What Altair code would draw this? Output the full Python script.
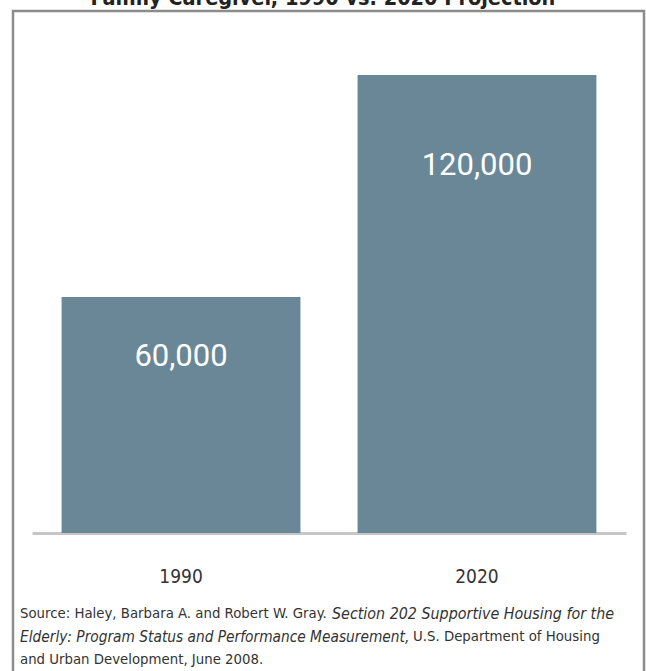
import altair as alt
import pandas as pd

# ---- data ----
YEARS = ["1990", "2020"]
CAREGIVERS = [60000, 120000]
VALUE_LABELS = ["60,000", "120,000"]
TITLE = "Family Caregiver, 1990 vs. 2020 Projection"
SOURCE_LINE1 = ["Source: Haley, Barbara A. and Robert W. Gray.", "Section 202 Supportive Housing for the"]
SOURCE_LINE2 = ["Elderly: Program Status and Performance Measurement,", "U.S. Department of Housing"]
SOURCE_LINE3 = ["and Urban Development, June 2008."]

df = pd.DataFrame({"year": YEARS, "value": CAREGIVERS, "label": VALUE_LABELS})

NARROW = "Liberation Sans Narrow, Arial Narrow, DejaVu Sans Condensed, sans-serif"
BAR_COLOR = "#6a8797"
OX = 32  # left padding

W, H = 594, 533
Y_DOMAIN = [-3784, 140270]

x_enc = alt.X(
    "year:N",
    sort=YEARS,
    scale=alt.Scale(paddingInner=0.193, paddingOuter=0.1),
    axis=alt.Axis(
        title=None, labelAngle=0, ticks=False, domainColor="#c6c6c6", domainWidth=3,
        labelFont=NARROW, labelFontSize=19, labelColor="#333333", labelPadding=34,
    ),
)
y_enc = alt.Y("value:Q", scale=alt.Scale(domain=Y_DOMAIN, nice=False, zero=False), axis=None)

bars = alt.Chart(df).mark_bar(color=BAR_COLOR).encode(x=x_enc, y=y_enc, y2=alt.datum(Y_DOMAIN[0]))

def value_label(year, dy):
    return (
        alt.Chart(df)
        .transform_filter(alt.datum.year == year)
        .mark_text(font="Roboto", fontSize=31, color="white", baseline="middle", align="center", dy=dy)
        .encode(x=x_enc, y=y_enc, text="label:N")
    )

lab1 = value_label("1990", 60)
lab2 = value_label("2020", 91)

one = alt.Data(values=[{"k": 1}])

border = alt.Chart(one).mark_rect(fillOpacity=0, stroke="#8c8c8c", strokeWidth=2.5).encode(
    x=alt.value(13 - OX), x2=alt.value(644 - OX), y=alt.value(11), y2=alt.value(720)
)

def src(text, px, py, size, italic=False):
    kw = dict(font=NARROW, fontSize=size, color="#333333", align="left", baseline="middle")
    if italic:
        kw["fontStyle"] = "italic"
    return alt.Chart(one).mark_text(**kw).encode(
        x=alt.value(px - OX), y=alt.value(py), text=alt.value(text)
    )

source = [
    src(SOURCE_LINE1[0], 20, 614, 14.8),
    src(SOURCE_LINE1[1], 332, 614, 15.9, italic=True),
    src(SOURCE_LINE2[0], 20, 637, 15.3, italic=True),
    src(SOURCE_LINE2[1], 413, 637, 14.8),
    src(SOURCE_LINE3[0], 20, 660, 14.8),
]

chart = alt.layer(border, bars, lab1, lab2, *source).properties(
    width=W,
    height=H,
    autosize=alt.AutoSizeParams(type="none"),
    padding={"left": OX, "right": 20, "top": 0, "bottom": 138},
    background="white",
    title=alt.Title(TITLE, font=NARROW, fontSize=21.5, fontWeight="bold", color="#222222",
                    anchor="middle", dy=13, dx=-6),
).configure_view(stroke=None)

chart.save("out.html", embed_options={"renderer": "svg", "actions": False})
